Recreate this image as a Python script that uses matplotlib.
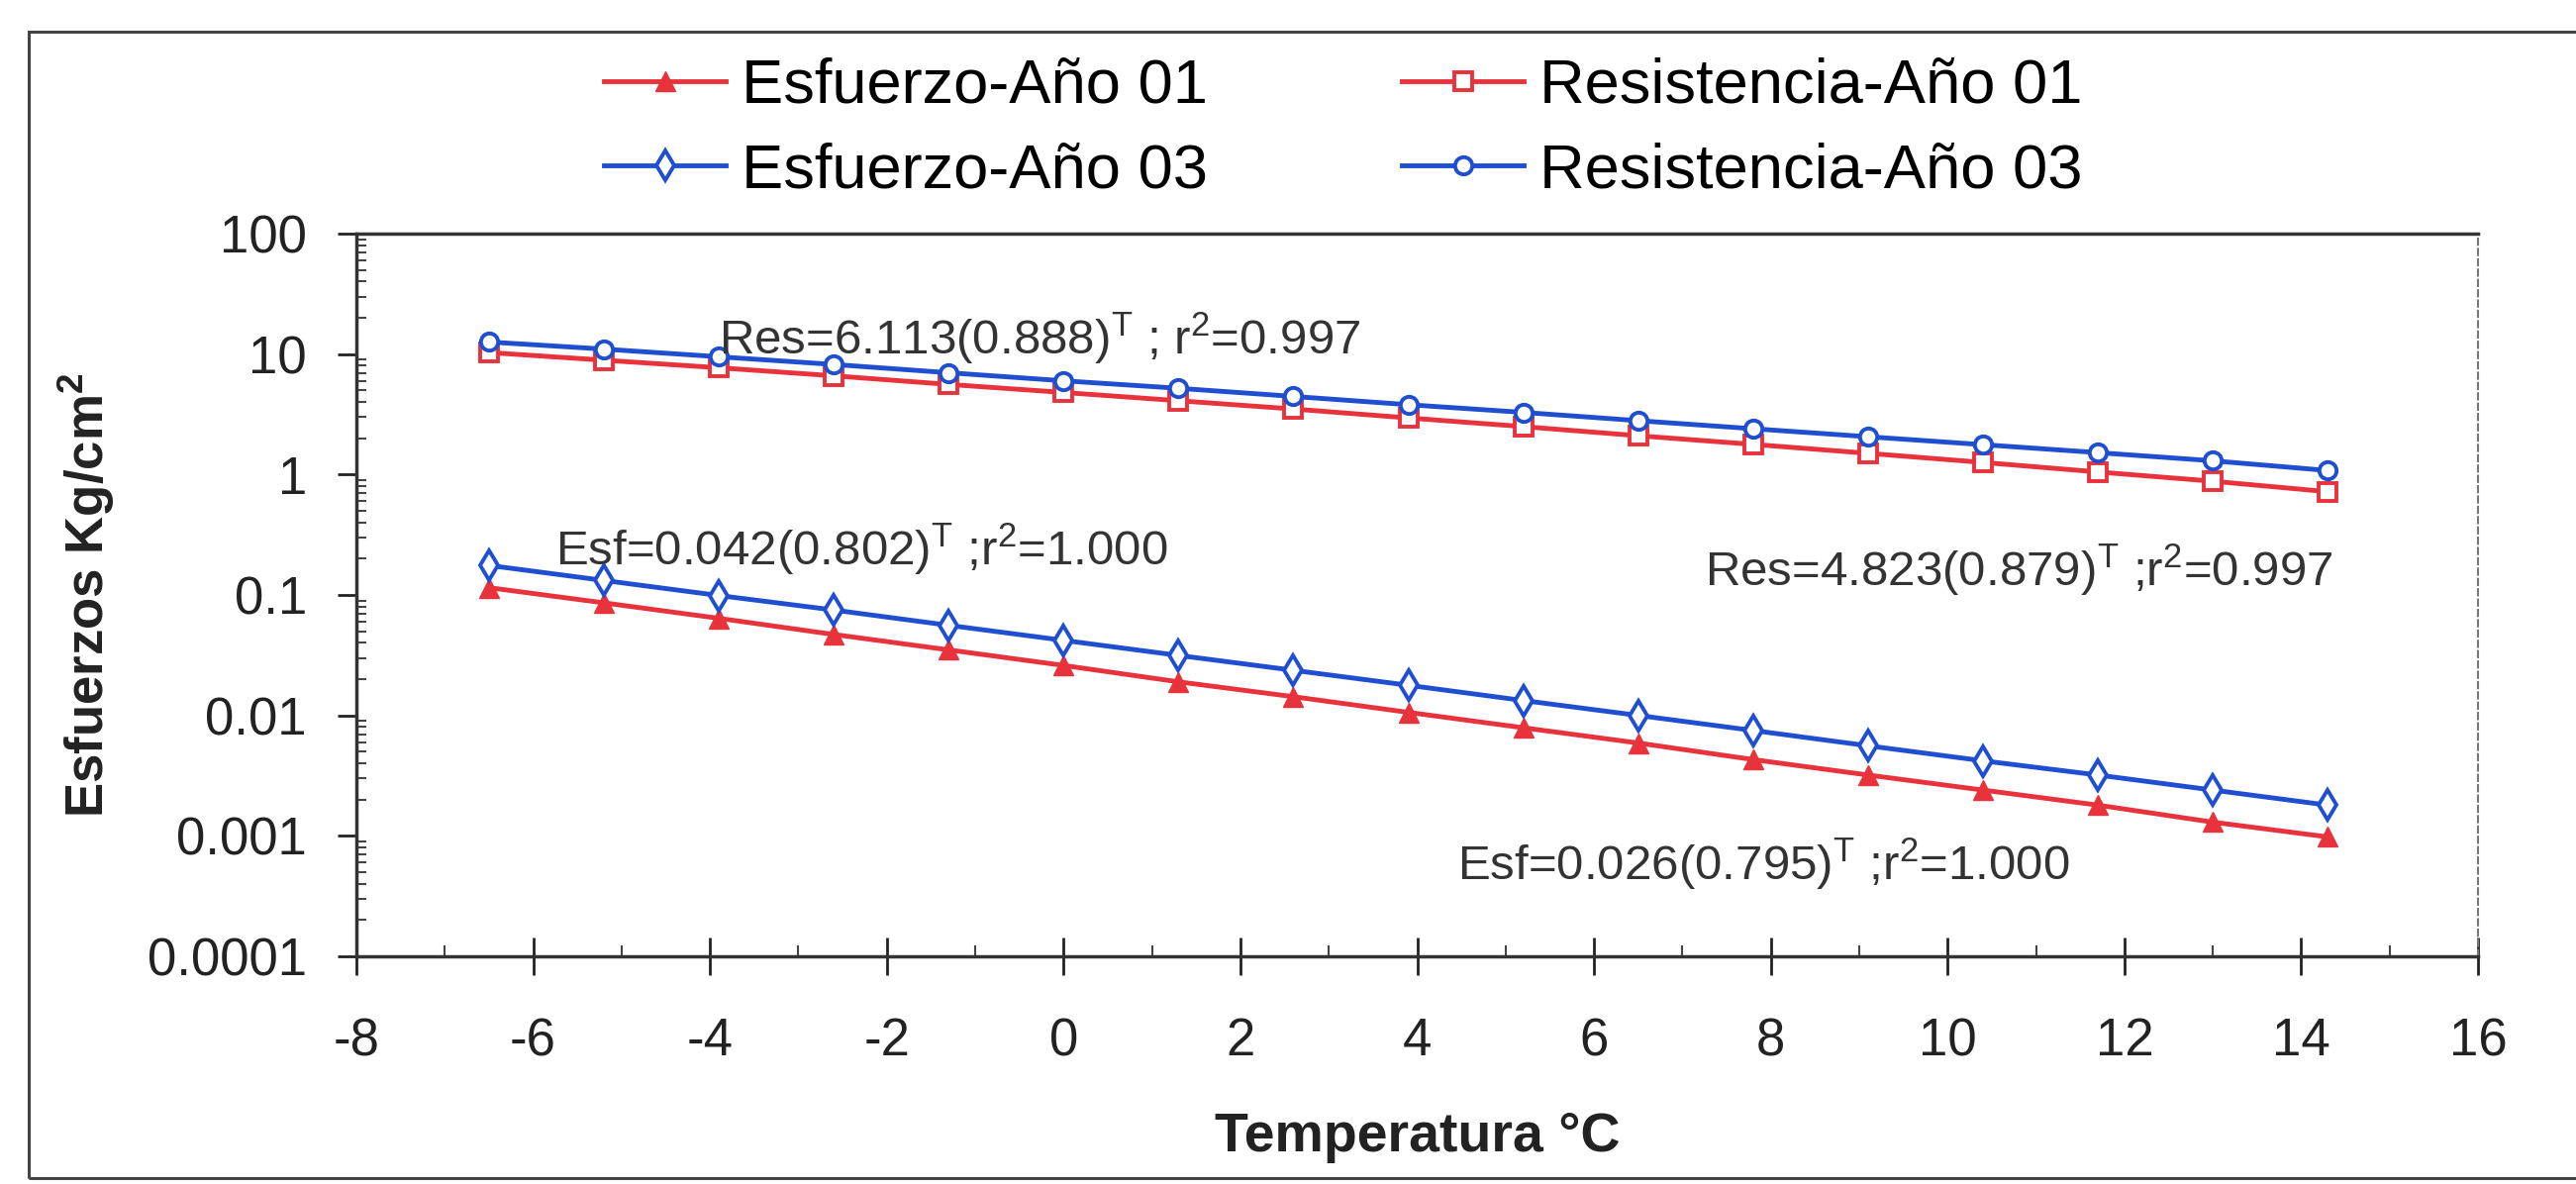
import matplotlib.pyplot as plt
from matplotlib.patches import Rectangle
from matplotlib.ticker import FixedLocator, MultipleLocator, LogLocator, NullFormatter

plt.rcParams['font.family'] = ['Liberation Sans', 'DejaVu Sans']
plt.rcParams['mathtext.fontset'] = 'custom'
plt.rcParams['mathtext.rm'] = 'Liberation Sans'
plt.rcParams['mathtext.it'] = 'Liberation Sans'
plt.rcParams['mathtext.bf'] = 'Liberation Sans:bold'
plt.rcParams['axes.unicode_minus'] = False

# Temperatura (°C) y esfuerzos / resistencias (Kg/cm2)
temperatura = [-6.5, -5.2, -3.9, -2.6, -1.3, 0.0, 1.3, 2.6, 3.9, 5.2, 6.5,
               7.8, 9.1, 10.4, 11.7, 13.0, 14.3]
esf_01 = [0.115, 0.086, 0.064, 0.047, 0.035, 0.026, 0.019, 0.0143, 0.0106,
          0.0079, 0.0059, 0.0043, 0.0032, 0.0024, 0.0018, 0.0013, 0.00098]
esf_03 = [0.176, 0.132, 0.099, 0.075, 0.056, 0.042, 0.0315, 0.0237, 0.0178,
          0.0133, 0.0100, 0.0075, 0.0056, 0.0042, 0.0032, 0.0024, 0.0018]
res_01 = [10.3, 8.9, 7.7, 6.6, 5.6, 4.8, 4.1, 3.5, 2.95, 2.5, 2.1, 1.78,
          1.5, 1.26, 1.05, 0.88, 0.72]
res_03 = [12.6, 11.0, 9.5, 8.2, 7.0, 6.0, 5.2, 4.45, 3.8, 3.28, 2.8, 2.4,
          2.06, 1.77, 1.52, 1.3, 1.08]

y_ticks = [0.0001, 0.001, 0.01, 0.1, 1, 10, 100]
y_labels = ["0.0001", "0.001", "0.01", "0.1", "1", "10", "100"]
x_ticks = list(range(-8, 17, 2))

RED = "#e8323c"
BLUE = "#1f4fd0"
W, H = 2602, 1196

fig = plt.figure(figsize=(W / 100, H / 100), dpi=100)
ax = fig.add_axes([360 / W, 1 - 966 / H, (2503 - 360) / W, (966 - 236) / H])

h1, = ax.plot(temperatura, esf_01, color=RED, lw=3.5, marker="^", ms=14,
              mfc=RED, mec=RED, label="Esfuerzo-Año 01")
h2, = ax.plot(temperatura, esf_03, color=BLUE, lw=3.5, marker="d", ms=15,
              mfc="white", mec=BLUE, mew=2.8, label="Esfuerzo-Año 03")
h3, = ax.plot(temperatura, res_01, color=RED, lw=3.5, marker="s", ms=12.5,
              mfc="white", mec=RED, mew=2.8, label="Resistencia-Año 01")
h4, = ax.plot(temperatura, res_03, color=BLUE, lw=3.5, marker="o", ms=12.5,
              mfc="white", mec=BLUE, mew=2.8, label="Resistencia-Año 03")

ax.set_yscale("log")
ax.set_ylim(0.0001, 100)
ax.set_xlim(-8, 16)

ax.yaxis.set_major_locator(FixedLocator(y_ticks))
ax.set_yticklabels(y_labels)
ax.yaxis.set_minor_locator(LogLocator(base=10, subs=range(2, 10)))
ax.yaxis.set_minor_formatter(NullFormatter())
ax.xaxis.set_major_locator(FixedLocator(x_ticks))
ax.xaxis.set_minor_locator(MultipleLocator(1))

ax.tick_params(axis="both", which="major", labelsize=38, colors="#222222",
               width=2)
ax.tick_params(axis="y", which="major", direction="out", length=14, pad=22)
ax.tick_params(axis="y", which="minor", direction="in", length=7, width=1.5,
               colors="#444444")
ax.tick_params(axis="x", which="major", direction="inout", length=28, pad=30)
ax.tick_params(axis="x", which="minor", direction="in", length=8, width=1.5,
               colors="#444444")

for side in ["left", "bottom", "top"]:
    ax.spines[side].set_color("#333333")
    ax.spines[side].set_linewidth(2.5)
ax.spines["right"].set_color("#777777")
ax.spines["right"].set_linewidth(1.5)
ax.spines["right"].set_linestyle((0, (3, 2)))

ax.set_ylabel("Esfuerzos Kg/cm$^{\\mathbf{2}}$", fontsize=38,
              fontweight="bold", color="#222222")
ax.yaxis.set_label_coords(-0.113, 0.5)
ax.set_xlabel("Temperatura °C", fontsize=40, fontweight="bold",
              color="#222222")
ax.xaxis.set_label_coords(0.5, -0.215)

# Ecuaciones de ajuste exponencial
eq_style = dict(fontsize=35.5, color="#333333", va="center", ha="left")
ax.text(-3.9, 13.5, "Res=6.113(0.888)$^{\\mathrm{T}}$ ; r$^{2}$=0.997", **eq_style)
ax.text(-5.75, 0.24, "Esf=0.042(0.802)$^{\\mathrm{T}}$ ;r$^{2}$=1.000", **eq_style)
ax.text(7.25, 0.16, "Res=4.823(0.879)$^{\\mathrm{T}}$ ;r$^{2}$=0.997", **eq_style)
ax.text(4.45, 0.00058, "Esf=0.026(0.795)$^{\\mathrm{T}}$ ;r$^{2}$=1.000", **eq_style)

fig.legend(handles=[h1, h2, h3, h4], ncol=2, frameon=False, fontsize=45.5,
           loc="upper left", bbox_to_anchor=(610 / W, 1 - 58 / H),
           borderpad=0, borderaxespad=0, handlelength=1.95,
           handletextpad=0.25, columnspacing=3.1, labelspacing=0.42)

# Marco exterior del grafico
fig.add_artist(Rectangle((29 / W, 6 / H), 1.2, 1 - 38 / H,
                         transform=fig.transFigure, fill=False,
                         edgecolor="#444444", linewidth=2.2))

fig.savefig("out.png", dpi=100, facecolor="white")
